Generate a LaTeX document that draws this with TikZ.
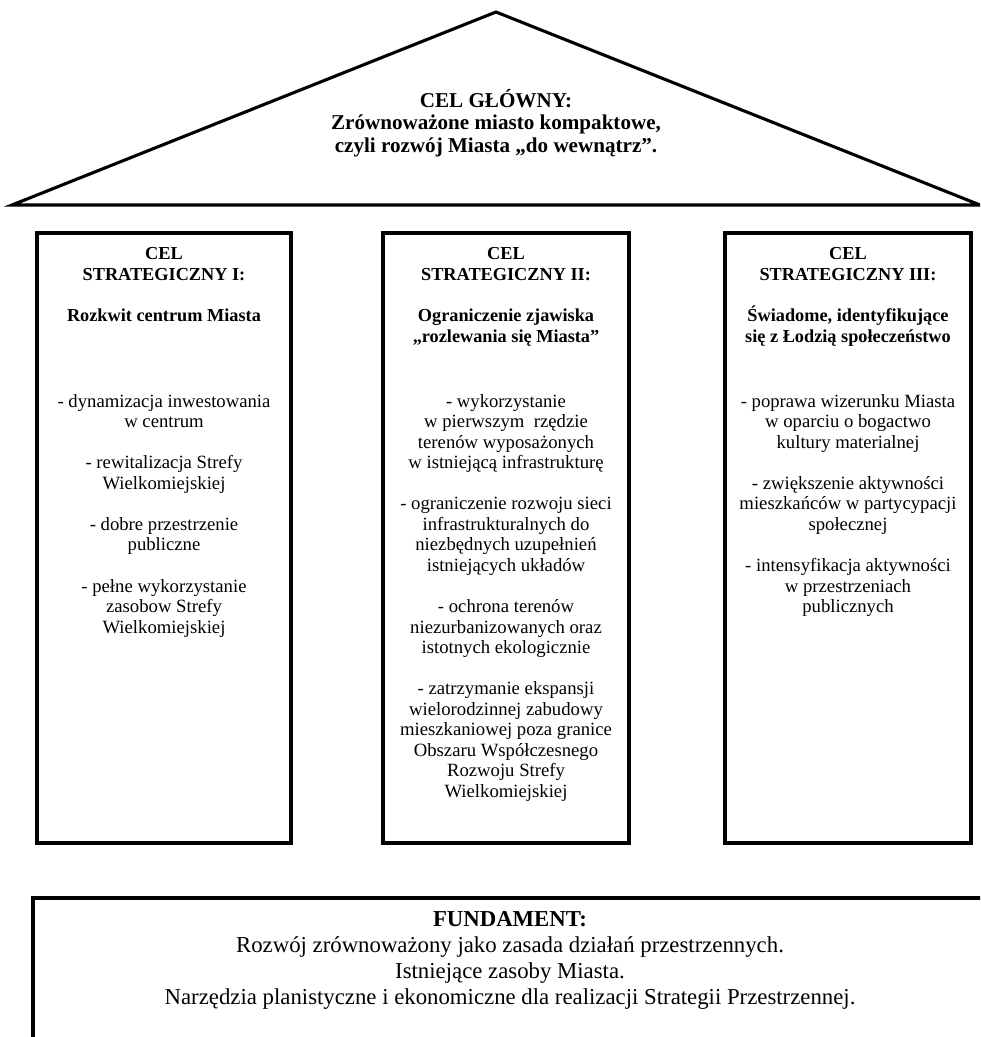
\documentclass[tikz,border=0pt]{standalone}
\usepackage{fontspec}
\setmainfont{Liberation Serif}

\begin{document}
\begin{tikzpicture}[x=0.025cm, y=-0.025cm,
    frame/.style={line width=2.2pt, line join=miter},
    rooftext/.style={anchor=north, align=center, inner sep=0pt, font=\bfseries\fontsize{15}{16}\selectfont},
    headtext/.style={anchor=north, align=center, inner sep=0pt, font=\bfseries\fontsize{13}{15}\selectfont},
    itemtext/.style={anchor=north, align=center, inner sep=0pt, font=\fontsize{13.3}{14.6}\selectfont},
    basetext/.style={anchor=north, align=center, inner sep=0pt, font=\fontsize{16.2}{18.6}\selectfont}]
% Set the page size (1 unit = 1 px)
\useasboundingbox (0,0) rectangle (980,1037);
\clip (0,0) rectangle (980,1037);

% Draw the roof with the main goal
\draw[frame] (12,205) -- (496,12) -- (980,205) -- cycle;
\node[rooftext] (roof) at (496, 89) {CEL GŁÓWNY:\\ Zrównoważone miasto kompaktowe,\\ czyli rozwój Miasta „do wewnątrz”.};

% Draw the three pillars
\draw[frame] (37, 233) rectangle (291, 843);
\node[headtext] (head1) at (164, 247) {CEL\\ STRATEGICZNY I:\\[14pt] Rozkwit centrum Miasta};
\node[itemtext] (list1) at (164, 394) {- dynamizacja inwestowania\\ w centrum\\[14.6pt]
  - rewitalizacja Strefy\\ Wielkomiejskiej\\[14.6pt]
  - dobre przestrzenie\\ publiczne\\[14.6pt]
  - pełne wykorzystanie\\ zasobow Strefy\\ Wielkomiejskiej};

\draw[frame] (383, 233) rectangle (629, 843);
\node[headtext] (head2) at (506, 247) {CEL\\ STRATEGICZNY II:\\[14pt] Ograniczenie zjawiska\\ „rozlewania się Miasta”};
\node[itemtext] (list2) at (506, 394) {- wykorzystanie\\ w pierwszym~ rzędzie\\ terenów wyposażonych\\ w istniejącą infrastrukturę\\[14.6pt]
  - ograniczenie rozwoju sieci\\ infrastrukturalnych do\\ niezbędnych uzupełnień\\ istniejących układów\\[14.6pt]
  - ochrona terenów\\ niezurbanizowanych oraz\\ istotnych ekologicznie\\[14.6pt]
  - zatrzymanie ekspansji\\ wielorodzinnej zabudowy\\ mieszkaniowej poza granice\\ Obszaru Współczesnego\\ Rozwoju Strefy\\ Wielkomiejskiej};

\draw[frame] (725, 233) rectangle (971, 843);
\node[headtext] (head3) at (848, 247) {CEL\\ STRATEGICZNY III:\\[14pt] Świadome, identyfikujące\\ się z Łodzią społeczeństwo};
\node[itemtext] (list3) at (848, 394) {- poprawa wizerunku Miasta\\ w oparciu o bogactwo\\ kultury materialnej\\[14.6pt]
  - zwiększenie aktywności\\ mieszkańców w partycypacji\\ społecznej\\[14.6pt]
  - intensyfikacja aktywności\\ w przestrzeniach\\ publicznych};

% Draw the foundation
\draw[frame] (33, 898) rectangle (990, 1045);
\node[basetext] (base) at (510, 911) {\textbf{FUNDAMENT:}\\ Rozwój zrównoważony jako zasada działań przestrzennych.\\ Istniejące zasoby Miasta.\\ Narzędzia planistyczne i ekonomiczne dla realizacji Strategii Przestrzennej.};
\end{tikzpicture}
\end{document}
